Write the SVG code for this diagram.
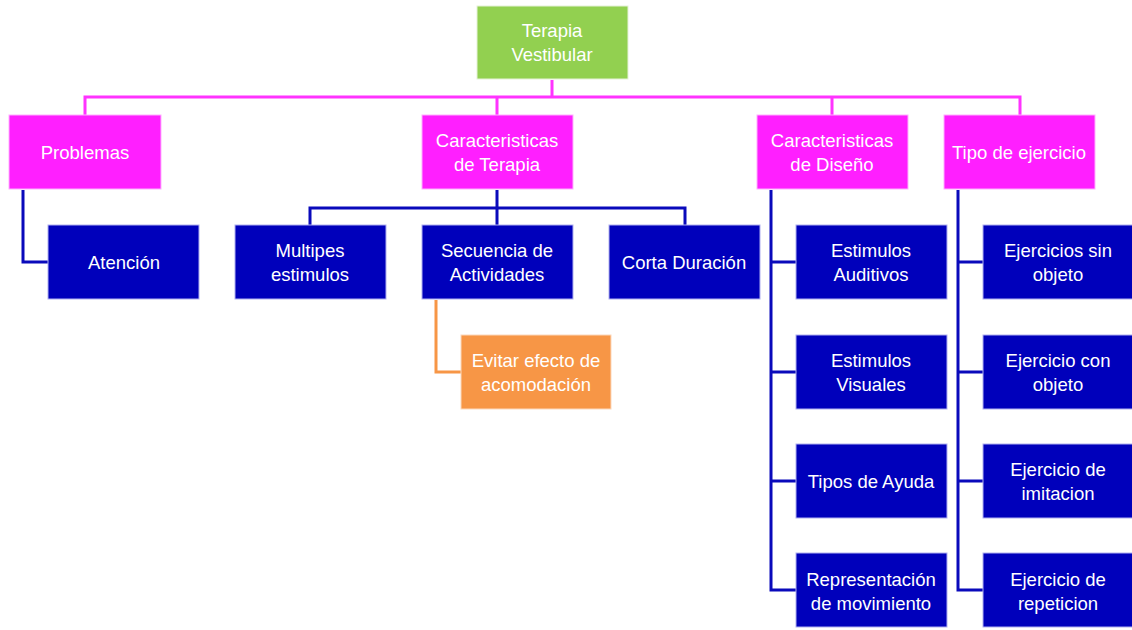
<svg xmlns="http://www.w3.org/2000/svg" width="1132" height="630" viewBox="0 0 1132 630">
<style>
.g{fill:#92D050;stroke:#E6F2D8;stroke-width:1}
.p{fill:#FF1FFF;stroke:#FFB0FF;stroke-width:1}
.b{fill:#0000BB;stroke:#B0B0F0;stroke-width:1}
.o{fill:#F79646;stroke:#FCD8BC;stroke-width:1}
text{font-family:"Liberation Sans","DejaVu Sans",sans-serif;font-size:18.5px;fill:#FFFFFF;text-anchor:middle}
.lp{fill:none;stroke:#FF33FF;stroke-width:3}
.lb{fill:none;stroke:#0A0ABB;stroke-width:3}
.lo{fill:none;stroke:#F79646;stroke-width:3}
</style>
<rect width="1132" height="630" fill="#FFFFFF"/>
<g id="connectors">
<path class="lp" d="M552,80V97M85,115V97H1020V115M497,97V115M832,97V115"/>
<path class="lb" d="M23,190V262H48"/>
<path class="lb" d="M497,190V225M310,225V208H685V225"/>
<path class="lo" d="M436,300V372H461"/>
<path class="lb" d="M771,190V590H796M771,262H796M771,372H796M771,481H796"/>
<path class="lb" d="M958,190V590H983M958,262H983M958,372H983M958,481H983"/>
</g>
<g id="n-root"><rect class="g" x="477" y="6" width="151" height="73"/><text x="552" y="37">Terapia</text><text x="552" y="61">Vestibular</text></g>
<g id="n-problemas"><rect class="p" x="9" y="115" width="152" height="74"/><text x="85" y="159">Problemas</text></g>
<g id="n-ctera"><rect class="p" x="422" y="115" width="151" height="74"/><text x="497" y="147">Caracteristicas</text><text x="497" y="171">de Terapia</text></g>
<g id="n-cdis"><rect class="p" x="757" y="115" width="151" height="74"/><text x="832" y="147">Caracteristicas</text><text x="832" y="171">de Diseño</text></g>
<g id="n-tipo"><rect class="p" x="944" y="115" width="151" height="74"/><text x="1019" y="159">Tipo de ejercicio</text></g>
<g id="n-atencion"><rect class="b" x="48" y="225" width="151" height="74"/><text x="124" y="269">Atención</text></g>
<g id="n-multi"><rect class="b" x="235" y="225" width="151" height="74"/><text x="310" y="257">Multipes</text><text x="310" y="281">estimulos</text></g>
<g id="n-secuencia"><rect class="b" x="422" y="225" width="151" height="74"/><text x="497" y="257">Secuencia de</text><text x="497" y="281">Actividades</text></g>
<g id="n-corta"><rect class="b" x="609" y="225" width="151" height="74"/><text x="684" y="269">Corta Duración</text></g>
<g id="n-evitar"><rect class="o" x="461" y="335" width="150" height="74"/><text x="536" y="367">Evitar efecto de</text><text x="536" y="391">acomodación</text></g>
<g id="n-auditivos"><rect class="b" x="796" y="225" width="151" height="74"/><text x="871" y="257">Estimulos</text><text x="871" y="281">Auditivos</text></g>
<g id="n-visuales"><rect class="b" x="796" y="335" width="151" height="74"/><text x="871" y="367">Estimulos</text><text x="871" y="391">Visuales</text></g>
<g id="n-ayuda"><rect class="b" x="796" y="444" width="151" height="74"/><text x="871" y="488">Tipos de Ayuda</text></g>
<g id="n-repr"><rect class="b" x="796" y="553" width="151" height="74"/><text x="871" y="586">Representación</text><text x="871" y="610">de movimiento</text></g>
<g id="n-sinobj"><rect class="b" x="983" y="225" width="151" height="74"/><text x="1058" y="257">Ejercicios sin</text><text x="1058" y="281">objeto</text></g>
<g id="n-conobj"><rect class="b" x="983" y="335" width="151" height="74"/><text x="1058" y="367">Ejercicio con</text><text x="1058" y="391">objeto</text></g>
<g id="n-imit"><rect class="b" x="983" y="444" width="151" height="74"/><text x="1058" y="476">Ejercicio de</text><text x="1058" y="500">imitacion</text></g>
<g id="n-rep"><rect class="b" x="983" y="553" width="151" height="74"/><text x="1058" y="586">Ejercicio de</text><text x="1058" y="610">repeticion</text></g>
</svg>
